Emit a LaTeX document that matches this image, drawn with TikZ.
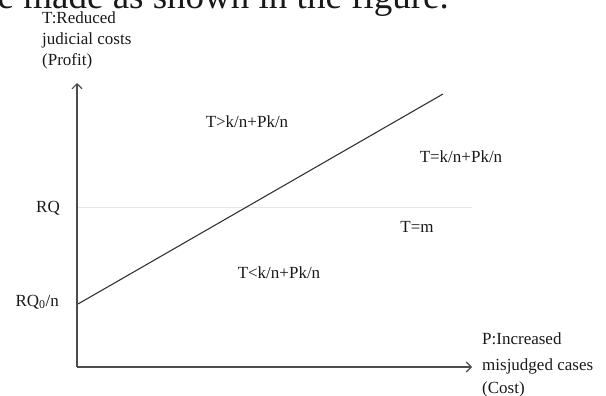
\documentclass[tikz,border=0pt]{standalone}
\usepackage{fontspec}
\setmainfont{Liberation Serif}
\usetikzlibrary{arrows.meta}
\tikzset{
  lbl/.style={inner sep=0pt, font=\fontsize{17}{21}\selectfont, text=black!90},
  axisline/.style={draw=black!70, line width=1.1pt, -{Straight Barb[length=5pt,width=10pt]}},
  refline/.style={draw=black!10, line width=0.9pt},
  diag/.style={draw=black!80, line width=1.1pt},
}
\begin{document}
\begin{tikzpicture}[x=1pt,y=-1pt]
\useasboundingbox (0,0) rectangle (606,396);
\clip (0,0) rectangle (606,396);
% cropped document text at top
\node[lbl, font=\fontsize{37}{40}\selectfont, anchor=base west] (doctext) at (-21,9) {be made as shown in the figure.};
% coordinates
\coordinate (O) at (77,367);
\coordinate (ytip) at (77,83);
\coordinate (xtip) at (472,367);
\coordinate (rqL) at (77,207);
\coordinate (rqR) at (472,207);
\coordinate (dA) at (78,304);
\coordinate (dB) at (443,94);
% lines
\draw[refline] (rqL) -- (rqR);
\draw[axisline] (O) -- (ytip);
\draw[axisline] (O) -- (xtip);
\draw[diag] (dA) -- (dB);
% axis labels
\node[lbl, anchor=base west] (ylab1) at (42,24) {T:Reduced};
\node[lbl, anchor=base west] (ylab2) at (42,45) {judicial costs};
\node[lbl, anchor=base west] (ylab3) at (42,66) {(Profit)};
\node[lbl, anchor=base west] (xlab1) at (482,344) {P:Increased};
\node[lbl, anchor=base west] (xlab2) at (482,370) {misjudged cases};
\node[lbl, anchor=base west] (xlab3) at (482,393) {(Cost)};
% tick labels
\node[lbl, anchor=east] (rq) at (60,208) {RQ};
\node[lbl, anchor=east] (rq0) at (59,302) {RQ\textsubscript{0}/n};
% region labels
\node[lbl] (gt) at (247,122) {T>k/n+Pk/n};
\node[lbl] (eq) at (461,157) {T=k/n+Pk/n};
\node[lbl] (tm) at (417,227) {T=m};
\node[lbl] (lt) at (279,273) {T<k/n+Pk/n};
\end{tikzpicture}
\end{document}
